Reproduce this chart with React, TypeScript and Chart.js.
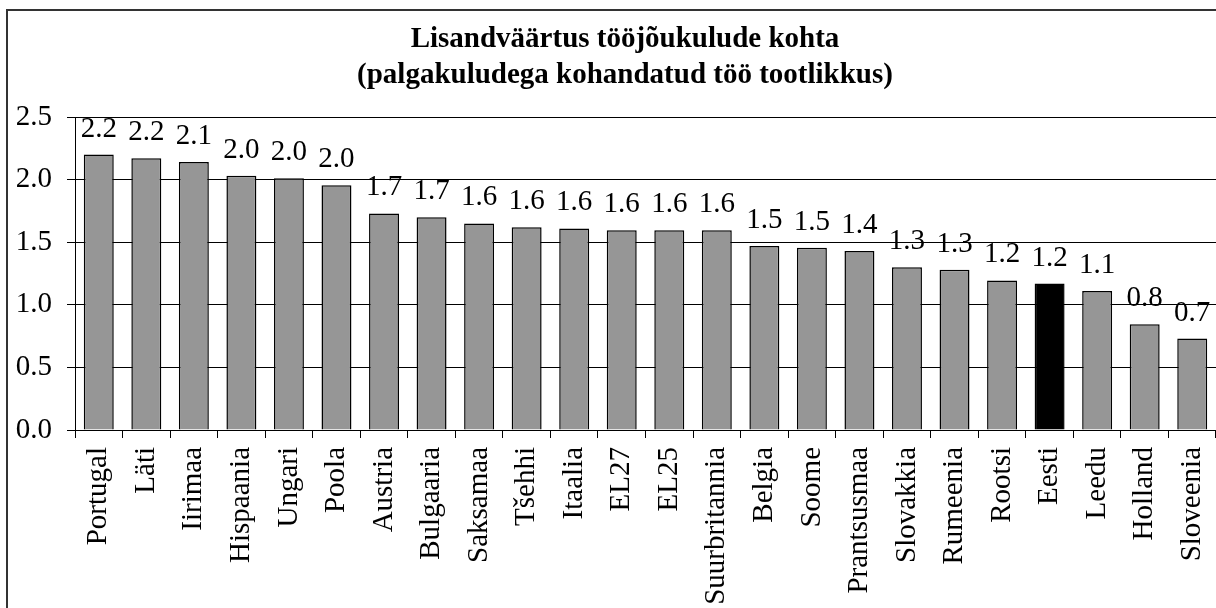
import { useEffect, useRef } from "react";
import { Chart, registerables } from "chart.js";

Chart.register(...registerables);

// ---- data ----
const CATEGORIES: string[] = [
  "Portugal", "Läti", "Iirimaa", "Hispaania", "Ungari", "Poola", "Austria",
  "Bulgaaria", "Saksamaa", "Tšehhi", "Itaalia", "EL27", "EL25", "Suurbritannia",
  "Belgia", "Soome", "Prantsusmaa", "Slovakkia", "Rumeenia", "Rootsi", "Eesti",
  "Leedu", "Holland", "Sloveenia",
];
const VALUES: number[] = [
  2.2, 2.17, 2.14, 2.03, 2.01, 1.955, 1.73,
  1.7, 1.65, 1.62, 1.61, 1.595, 1.595, 1.595,
  1.47, 1.456, 1.43, 1.3, 1.28, 1.195, 1.17,
  1.11, 0.845, 0.73,
];
const HIGHLIGHT = "Eesti";
const TITLE_LINES: string[] = [
  "Lisandväärtus tööjõukulude kohta",
  "(palgakuludega kohandatud töö tootlikkus)",
];
const Y_MIN = 0;
const Y_MAX = 2.5;
const Y_STEP = 0.5;

const W = 1250;
const H = 620;
const FONT = "'Liberation Serif', 'Times New Roman', serif";

export default function App() {
  const ref = useRef<HTMLCanvasElement>(null);

  useEffect(() => {
    document.documentElement.style.overflow = "hidden";
    document.body.style.overflow = "hidden";
    const canvas = ref.current;
    if (!canvas) return;

    const framePlugin = {
      id: "frameTitle",
      beforeDraw(chart: any) {
        const ctx = chart.ctx;
        ctx.save();
        ctx.fillStyle = "#fff";
        ctx.fillRect(0, 0, W, H);
        ctx.strokeStyle = "#333";
        ctx.lineWidth = 2;
        ctx.strokeRect(7, 10, 1237, 700);
        ctx.fillStyle = "#000";
        ctx.font = `bold 29px ${FONT}`;
        ctx.textAlign = "center";
        ctx.textBaseline = "alphabetic";
        ctx.fillText(TITLE_LINES[0], 625, 47);
        ctx.fillText(TITLE_LINES[1], 625, 83);
        ctx.restore();
      },
    };

    const labelPlugin = {
      id: "valueLabels",
      afterDatasetsDraw(chart: any) {
        const ctx = chart.ctx;
        const meta = chart.getDatasetMeta(0);
        ctx.save();
        ctx.fillStyle = "#000";
        ctx.font = `29px ${FONT}`;
        ctx.textAlign = "center";
        ctx.textBaseline = "alphabetic";
        meta.data.forEach((el: any, i: number) => {
          const v = chart.data.datasets[0].data[i] as number;
          ctx.fillText(v.toFixed(1), el.x, el.y - 18);
        });
        ctx.restore();
      },
    };

    const chart = new Chart(canvas, {
      type: "bar",
      data: {
        labels: CATEGORIES,
        datasets: [
          {
            data: VALUES,
            backgroundColor: CATEGORIES.map((c) => (c === HIGHLIGHT ? "#000000" : "#969696")),
            borderColor: "#000000",
            borderWidth: 1.5,
            barPercentage: 0.63,
            categoryPercentage: 1,
          },
        ],
      },
      options: {
        responsive: false,
        animation: false,
        devicePixelRatio: 1,
        layout: { padding: { top: 117, left: 0, right: W - 1216, bottom: 0 } },
        plugins: {
          legend: { display: false },
          title: { display: false },
          tooltip: { enabled: false },
        },
        scales: {
          x: {
            afterFit(scale: any) {
              scale.height = H - 430;
            },
            grid: {
              display: true,
              drawOnChartArea: false,
              drawTicks: true,
              tickLength: 8,
              color: "#000",
              offset: true,
            },
            border: { display: true, color: "#000", width: 1 },
            ticks: {
              autoSkip: false,
              minRotation: 90,
              maxRotation: 90,
              padding: 9,
              color: "#000",
              font: { family: FONT, size: 29 },
            },
          },
          y: {
            min: Y_MIN,
            max: Y_MAX,
            afterFit(scale: any) {
              scale.width = 75;
            },
            grid: {
              color: "#000",
              lineWidth: 1,
              tickLength: 8,
              drawTicks: true,
            },
            border: { display: true, color: "#000", width: 1 },
            ticks: {
              stepSize: Y_STEP,
              padding: 15,
              color: "#000",
              font: { family: FONT, size: 29 },
              callback: (v: any) => Number(v).toFixed(1),
            },
          },
        },
      },
      plugins: [framePlugin, labelPlugin],
    });

    return () => chart.destroy();
  }, []);

  return (
    <div style={{ position: "fixed", left: 0, top: 0, width: W, height: H, background: "#fff" }}>
      <canvas ref={ref} width={W} height={H} style={{ width: W, height: H, display: "block" }} />
    </div>
  );
}
